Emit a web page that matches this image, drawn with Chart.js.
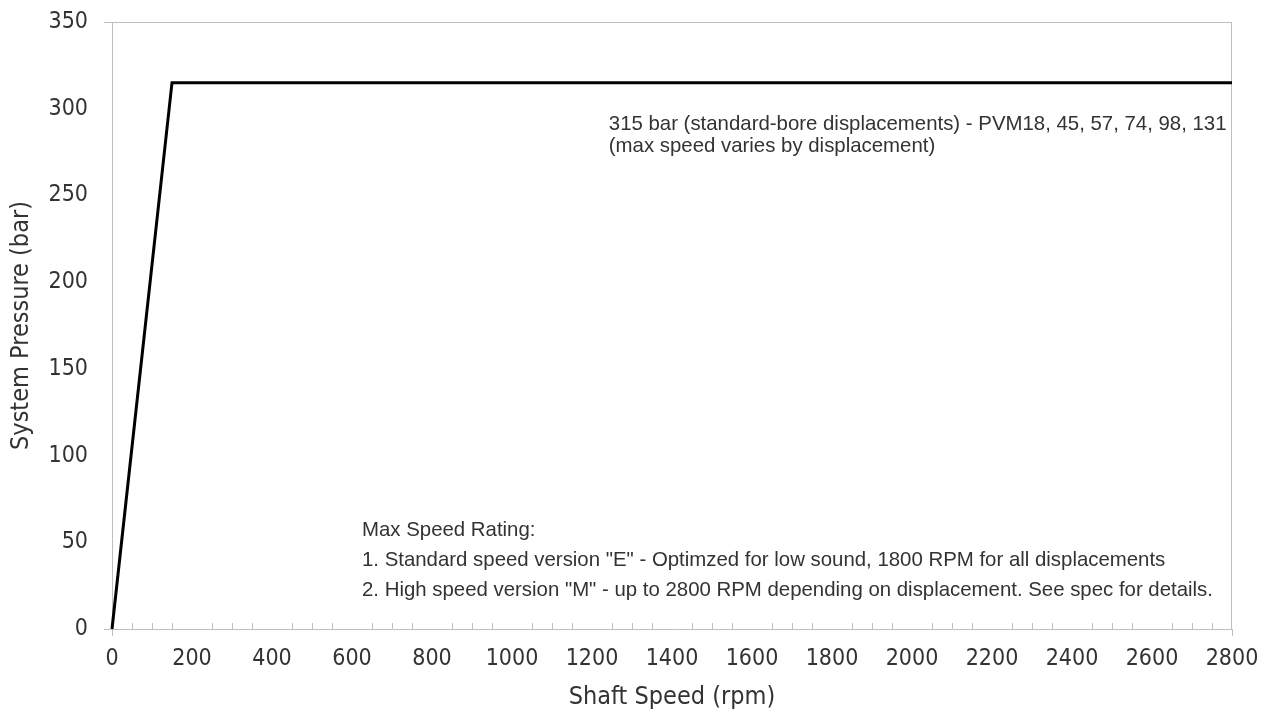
<!DOCTYPE html>
<html>
<head>
<meta charset="utf-8">
<script src="https://cdn.jsdelivr.net/npm/chart.js@4.4.1/dist/chart.umd.min.js"></script>
<style>
  html, body { margin: 0; padding: 0; background: #fff; }
  #wrap { width: 1266px; height: 716px; position: relative; }
</style>
</head>
<body>
<div id="wrap"><canvas id="chart-rating"></canvas></div>
<script>
// Rated pressure envelope vs shaft speed
const speeds    = [0, 150, 2800];   // rpm
const pressures = [0, 315, 315];    // bar

const xTicks = { min: 0, max: 2800, step: 200, minorStep: 50 };
const yTicks = { min: 0, max: 350, step: 50 };

const noteTop = [
  '315 bar (standard-bore displacements) - PVM18, 45, 57, 74, 98, 131',
  '(max speed varies by displacement)',
];
const noteBottom = [
  'Max Speed Rating:',
  '1. Standard speed version "E" - Optimzed for low sound, 1800 RPM for all displacements',
  '2. High speed version "M" - up to 2800 RPM depending on displacement. See spec for details.',
];

const AXIS_GREY = '#bfbfbf';
const TEXT      = '#333333';
const NARROW    = "'Liberation Sans Narrow', 'DejaVu Sans Condensed', sans-serif";
const NOTE_FONT = "20.4px 'Liberation Sans', Arial, sans-serif";

// frame round the plot + small minor ticks on the x axis
const framePlugin = {
  id: 'frame',
  beforeDatasetsDraw(chart) {
    const { ctx, chartArea: a, scales: { x } } = chart;
    ctx.save();
    ctx.strokeStyle = AXIS_GREY;
    ctx.lineWidth = 1;
    ctx.beginPath();
    ctx.moveTo(a.left, Math.round(a.top) + 0.5);
    ctx.lineTo(a.right, Math.round(a.top) + 0.5);
    ctx.moveTo(Math.round(a.right) - 0.5, a.top);
    ctx.lineTo(Math.round(a.right) - 0.5, a.bottom);
    for (let v = xTicks.min + xTicks.minorStep; v < xTicks.max; v += xTicks.minorStep) {
      if (v % xTicks.step === 0) continue;
      const px = Math.round(x.getPixelForValue(v)) + 0.5;
      ctx.moveTo(px, a.bottom);
      ctx.lineTo(px, a.bottom - 6);
    }
    ctx.stroke();
    ctx.restore();
  },
};

// text notes, anchored in data units
const notesPlugin = {
  id: 'notes',
  afterDatasetsDraw(chart) {
    const { ctx, scales: { x, y } } = chart;
    const blocks = [
      { lines: noteTop,    at: [1242, 287.7], gap: 22 },
      { lines: noteBottom, at: [625, 53.6],   gap: 30 },
    ];
    ctx.save();
    ctx.font = NOTE_FONT;
    ctx.fillStyle = TEXT;
    ctx.textAlign = 'left';
    ctx.textBaseline = 'alphabetic';
    blocks.forEach(b => {
      const px = x.getPixelForValue(b.at[0]);
      const py = y.getPixelForValue(b.at[1]);
      b.lines.forEach((t, i) => ctx.fillText(t, px, py + i * b.gap));
    });
    ctx.restore();
  },
};

const endTickColor = (lo, hi) => c => (c.tick && (c.tick.value === lo || c.tick.value === hi)) ? AXIS_GREY : 'rgba(0,0,0,0)';
const noPad = s => { s.paddingLeft = 0; s.paddingRight = 0; s.paddingTop = 0; s.paddingBottom = 0; };

new Chart(document.getElementById('chart-rating').getContext('2d'), {
  type: 'line',
  data: {
    datasets: [{
      data: speeds.map((s, i) => ({ x: s, y: pressures[i] })),
      borderColor: '#000',
      borderWidth: 3,
      pointRadius: 0,
      tension: 0,
      clip: false,
    }],
  },
  options: {
    responsive: true,
    maintainAspectRatio: false,
    animation: false,
    devicePixelRatio: 1,
    layout: { padding: { top: 22, right: 34, left: 0, bottom: 0 } },
    plugins: { legend: { display: false }, tooltip: { enabled: false } },
    scales: {
      x: {
        type: 'linear',
        min: xTicks.min, max: xTicks.max,
        afterFit: s => { s.height = 87; noPad(s); },
        grid: { drawOnChartArea: false, tickLength: 7, color: endTickColor(xTicks.min, xTicks.max) },
        border: { color: AXIS_GREY },
        ticks: { stepSize: xTicks.step, color: TEXT, padding: 9, maxRotation: 0, autoSkip: false,
                 callback: v => String(v), font: { family: NARROW, size: 23 } },
        title: { display: true, text: 'Shaft Speed (rpm)', color: TEXT, padding: { top: 0, bottom: 4 }, font: { family: NARROW, size: 25 } },
      },
      y: {
        min: yTicks.min, max: yTicks.max,
        afterFit: s => { s.width = 112; noPad(s); },
        grid: { drawOnChartArea: false, tickLength: 8, color: endTickColor(yTicks.min, yTicks.max) },
        border: { color: AXIS_GREY },
        ticks: { stepSize: yTicks.step, color: TEXT, padding: 16, callback: v => String(v), font: { family: NARROW, size: 23 } },
        title: { display: true, text: 'System Pressure (bar)', color: TEXT, padding: { top: 6, bottom: 0 }, font: { family: NARROW, size: 25 } },
      },
    },
  },
  plugins: [framePlugin, notesPlugin],
});
</script>
</body>
</html>
